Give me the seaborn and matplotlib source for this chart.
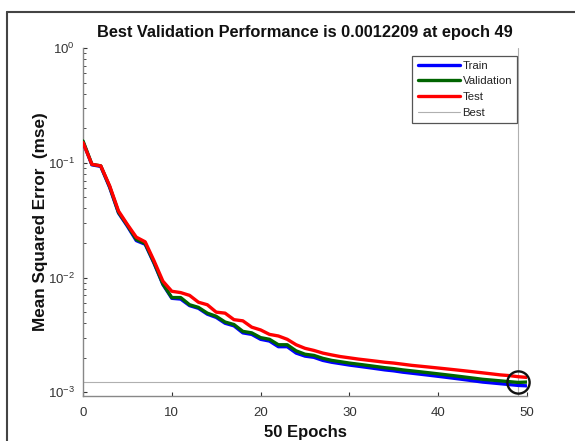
import numpy as np
import pandas as pd
import matplotlib
matplotlib.use("Agg")
import matplotlib.pyplot as plt
from matplotlib.lines import Line2D
import seaborn as sns

epochs = list(range(0, 51))
train = [0.152, 0.096, 0.093, 0.061, 0.0365, 0.028, 0.021, 0.0195, 0.0133, 0.0087,
         0.0066, 0.0065, 0.0057, 0.0054, 0.0048, 0.0045, 0.0040, 0.0038, 0.0033, 0.0032,
         0.0029, 0.0028, 0.0025, 0.0025, 0.0022, 0.00207, 0.00202, 0.0019, 0.00183, 0.00178,
         0.00173, 0.00169, 0.00165, 0.00161, 0.00157, 0.00154, 0.0015, 0.00147, 0.00144, 0.00141,
         0.00138, 0.00135, 0.00132, 0.00129, 0.00126, 0.00123, 0.00121, 0.00119, 0.00117, 0.00115,
         0.00114]
validation = [0.155, 0.097, 0.094, 0.062, 0.037, 0.0285, 0.0215, 0.0198, 0.0135, 0.0088,
              0.0067, 0.0067, 0.0058, 0.0055, 0.0049, 0.0046, 0.0041, 0.0039, 0.0034, 0.0033,
              0.0030, 0.0029, 0.0026, 0.0026, 0.0023, 0.00215, 0.0021, 0.00198, 0.0019, 0.00185,
              0.0018, 0.00176, 0.00172, 0.00168, 0.00164, 0.00161, 0.00157, 0.00154, 0.00151, 0.00148,
              0.00145, 0.00142, 0.00139, 0.00136, 0.00133, 0.0013, 0.00128, 0.00126, 0.00124, 0.0012209,
              0.00123]
test = [0.150, 0.097, 0.094, 0.063, 0.038, 0.029, 0.0225, 0.0205, 0.014, 0.0093,
        0.0076, 0.0074, 0.0070, 0.0061, 0.0058, 0.0050, 0.0049, 0.0043, 0.0042, 0.0037,
        0.0035, 0.0032, 0.0031, 0.0029, 0.0026, 0.00242, 0.00232, 0.0022, 0.00212, 0.00205,
        0.002, 0.00195, 0.00191, 0.00187, 0.00183, 0.0018, 0.00176, 0.00172, 0.00169, 0.00166,
        0.00163, 0.0016, 0.00157, 0.00154, 0.00151, 0.00148, 0.00145, 0.00142, 0.0014, 0.00137,
        0.00135]
best_epoch = 49
best_value = 0.0012209
x_ticks = [0, 10, 20, 30, 40, 50]
series_names = ["Train", "Validation", "Test"]
series_colors = {"Train": "#0000ff", "Validation": "#006400", "Test": "#ff0000"}

sns.set_style("white")
plt.rcParams['font.family'] = ['Liberation Sans', 'DejaVu Sans']
plt.rcParams['mathtext.fontset'] = 'custom'
plt.rcParams['mathtext.rm'] = 'Liberation Sans'
plt.rcParams['mathtext.it'] = 'Liberation Sans:italic'
plt.rcParams['mathtext.bf'] = 'Liberation Sans:bold'
plt.rcParams['axes.unicode_minus'] = False

df = pd.DataFrame({
    "epoch": epochs * 3,
    "mse": train + validation + test,
    "series": ["Train"] * len(epochs) + ["Validation"] * len(epochs) + ["Test"] * len(epochs),
})

fig = plt.figure(figsize=(5.75, 4.41), dpi=100)
ax = fig.add_axes([83 / 575, 1 - 396 / 441, (527 - 83) / 575, (396 - 48) / 441])

sns.lineplot(data=df, x="epoch", y="mse", hue="series", hue_order=series_names,
             palette=series_colors, linewidth=2.4, ax=ax, legend=False, zorder=3)

ax.set_yscale("log")
ax.set_xlim(0, 50)
ax.set_ylim(0.00093, 1.0)

# best lines
ax.plot([0, 50], [best_value, best_value], color="#b0b0b0", lw=0.8, zorder=2)
ax.plot([best_epoch, best_epoch], [0.00093, 1.0], color="#b0b0b0", lw=0.8, zorder=2)
ax.plot([best_epoch], [best_value], marker="o", markersize=16, markerfacecolor="none",
        markeredgecolor="#111111", markeredgewidth=1.7, zorder=5, clip_on=False)

ax.set_xticks(x_ticks)
ax.tick_params(axis="both", which="both", direction="in", colors="#333333",
               labelsize=9.5, left=True, bottom=True)
ax.tick_params(axis="both", which="major", length=3)
ax.tick_params(axis="x", which="major", pad=8)
ax.tick_params(axis="y", which="major", pad=6)
ax.tick_params(axis="y", which="minor", length=2)
for side in ["top", "right"]:
    ax.spines[side].set_visible(False)
for side in ["left", "bottom"]:
    ax.spines[side].set_color("#888888")
    ax.spines[side].set_linewidth(1.0)

ax.set_title("Best Validation Performance is 0.0012209 at epoch 49",
             fontsize=11.8, fontweight="bold", pad=8, color="#111111")
ax.set_xlabel("50 Epochs", fontsize=12, fontweight="bold", labelpad=4, color="#111111")
ax.set_ylabel("Mean Squared Error  (mse)", fontsize=12.3, fontweight="bold", labelpad=0,
              color="#111111")

handles = [Line2D([], [], color=series_colors[n], lw=2.4) for n in series_names]
handles.append(Line2D([], [], color="#b0b0b0", lw=0.8))
leg = ax.legend(handles, series_names + ["Best"], loc="upper right",
                bbox_to_anchor=(0.978, 0.978), fontsize=8.2, handlelength=3.7,
                handletextpad=0.25, labelspacing=0.5, borderpad=0.45,
                frameon=True, fancybox=False, framealpha=1, borderaxespad=0)
leg.get_frame().set_edgecolor("#555555")
leg.get_frame().set_linewidth(0.9)
for t in leg.get_texts():
    t.set_color("#222222")

# window border
fig.add_artist(Line2D([7 / 575, 1.0], [1 - 12 / 441, 1 - 12 / 441],
                      transform=fig.transFigure, color="#444444", lw=1.5))
fig.add_artist(Line2D([7 / 575, 7 / 575], [0.0, 1 - 12 / 441],
                      transform=fig.transFigure, color="#444444", lw=1.5))

fig.savefig("out.png", dpi=100)
